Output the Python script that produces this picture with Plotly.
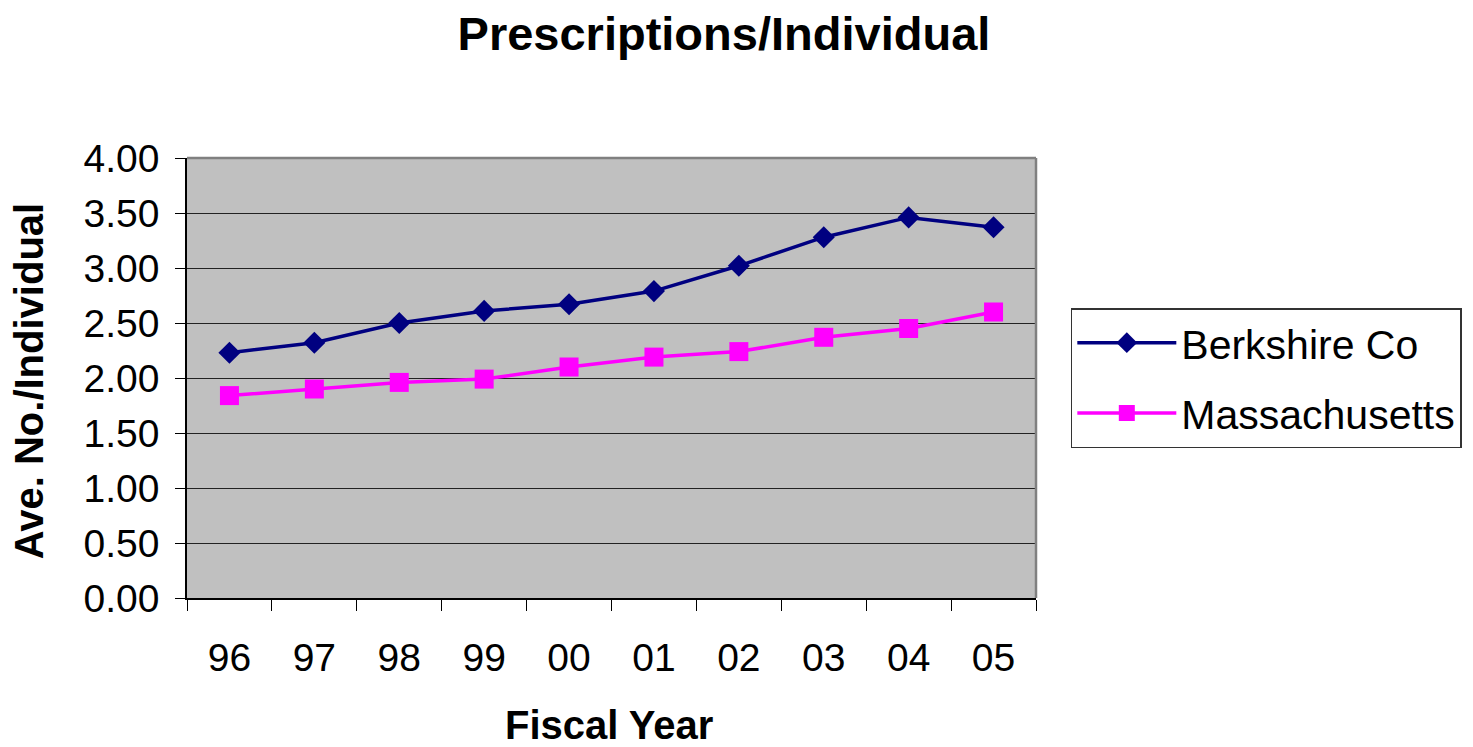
import plotly.graph_objects as go

years = ["96", "97", "98", "99", "00", "01", "02", "03", "04", "05"]
berkshire = [2.23, 2.32, 2.50, 2.61, 2.67, 2.79, 3.02, 3.28, 3.46, 3.37]
massachusetts = [1.84, 1.90, 1.96, 1.99, 2.10, 2.19, 2.24, 2.37, 2.45, 2.60]
y_ticks = [0.0, 0.5, 1.0, 1.5, 2.0, 2.5, 3.0, 3.5, 4.0]

FONT = "Liberation Sans, Arial, sans-serif"

fig = go.Figure()
fig.add_trace(go.Scatter(
    x=years, y=berkshire, name="Berkshire Co", mode="lines+markers",
    line=dict(color="#000080", width=3.5),
    marker=dict(symbol="diamond", size=17, color="#000080"),
    legendgroup="a",
))
fig.add_trace(go.Scatter(
    x=years, y=massachusetts, name="Massachusetts", mode="lines+markers",
    line=dict(color="#FF00FF", width=3.5),
    marker=dict(symbol="square", size=19, color="#FF00FF"),
    legendgroup="b",
))

fig.update_layout(
    width=1465, height=739,
    margin=dict(l=179, r=437, t=150, b=149, autoexpand=False),
    paper_bgcolor="white",
    plot_bgcolor="#C0C0C0",
    font=dict(family=FONT, color="black", size=39),
    title=dict(text="<b>Prescriptions/Individual</b>", x=0.4887, xanchor="center",
               y=0.966, yanchor="middle", font=dict(size=47, family=FONT)),
    showlegend=True,
    legend=dict(x=1.041, xanchor="left", y=0.5, yanchor="middle",
                bgcolor="white", bordercolor="#333333", borderwidth=1.5,
                font=dict(size=41, family=FONT), tracegroupgap=14,
                itemwidth=99),
    xaxis=dict(type="category", categoryorder="array", categoryarray=years,
               range=[-0.5, 9.5], showgrid=False, showline=True,
               linecolor="black", linewidth=1.5, ticks="outside",
               tickson="boundaries", ticklen=11, tickcolor="black",
               tickwidth=1, ticklabelstandoff=24,
               tickfont=dict(size=39, family=FONT), zeroline=False),
    yaxis=dict(range=[0, 4], tickvals=y_ticks, tickformat=".2f",
               showgrid=True, gridcolor="#222222", gridwidth=1,
               showline=True, linecolor="black", linewidth=1.5,
               ticks="outside", ticklen=10, tickcolor="black", tickwidth=1,
               ticklabelstandoff=8,
               tickfont=dict(size=39, family=FONT), zeroline=False),
    annotations=[
        dict(text="<b>Ave. No./Individual</b>", xref="paper", yref="paper",
             x=-0.186, y=0.493, xanchor="center", yanchor="middle",
             textangle=-90, showarrow=False, font=dict(size=40, family=FONT)),
        dict(text="<b>Fiscal Year</b>", xref="paper", yref="paper",
             x=0.497, y=-0.289, xanchor="center", yanchor="middle",
             showarrow=False, font=dict(size=40, family=FONT)),
    ],
    shapes=[
        dict(type="line", xref="paper", yref="paper", x0=0, x1=1, y0=1, y1=1,
             line=dict(color="#808080", width=2.5), layer="above"),
        dict(type="line", xref="paper", yref="paper", x0=1, x1=1, y0=0, y1=1,
             line=dict(color="#808080", width=2.5), layer="above"),
    ],
)

fig.write_html("out.html")
